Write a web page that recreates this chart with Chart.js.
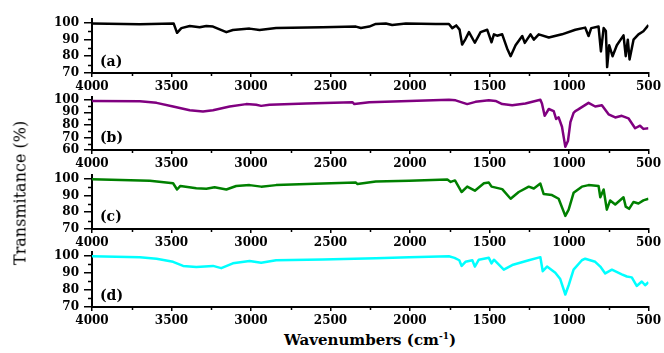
<!DOCTYPE html>
<html>
<head>
<meta charset="utf-8">
<script src="https://cdn.jsdelivr.net/npm/chart.js@4.4.1/dist/chart.umd.min.js"></script>
<style>
  body { margin: 0; background: #fff; }
  #wrap { position: relative; width: 664px; height: 353px; overflow: hidden; }
  .panel { position: absolute; left: 0; width: 664px; }
  .tag { position: absolute; left: 100px; font: bold 14px "DejaVu Serif"; color: #000; }
  #ytitle { position: absolute; left: 20px; top: 193px; transform: translate(-50%, -50%) rotate(-90deg);
            font: 16px "DejaVu Serif"; white-space: nowrap; color: #000; }
  #xtitle { position: absolute; left: 370px; top: 340px; transform: translate(-50%, -50%);
            font: bold 15px "DejaVu Serif"; white-space: nowrap; color: #000; }
  #xtitle sup { font-size: 9px; }
</style>
</head>
<body>
<div id="wrap">
  <div class="panel" style="top:7px;height:86px"><canvas id="chartA"></canvas></div>
  <div class="panel" style="top:85px;height:85px"><canvas id="chartB"></canvas></div>
  <div class="panel" style="top:163px;height:86px"><canvas id="chartC"></canvas></div>
  <div class="panel" style="top:240px;height:87px"><canvas id="chartD"></canvas></div>
  <div class="tag" style="top:53px">(a)</div>
  <div class="tag" style="top:129px">(b)</div>
  <div class="tag" style="top:208px">(c)</div>
  <div class="tag" style="top:287px">(d)</div>
  <div id="ytitle">Transmitance (%)</div>
  <div id="xtitle">Wavenumbers (cm<sup>-1</sup>)</div>
</div>
<script>
// spectre (a)
const waveA = [4000, 3700, 3486, 3465, 3438, 3385, 3323, 3281, 3239, 3155, 3114, 3009, 2946, 2842, 2549, 2340, 2309, 2256, 2215, 2152, 2112, 2026, 1838, 1755, 1734, 1709, 1688, 1672, 1651, 1629, 1592, 1556, 1514, 1487, 1472, 1452, 1420, 1389, 1367, 1336, 1294, 1278, 1242, 1221, 1190, 1127, 1044, 960, 898, 877, 860, 814, 799, 782, 768, 760, 747, 726, 699, 657, 643, 630, 619, 594, 563, 532, 500];
const transA = [99.4, 99.0, 99.4, 93.9, 96.7, 98.0, 97.2, 98.0, 97.6, 94.3, 95.6, 96.4, 95.6, 96.8, 97.2, 97.6, 96.8, 97.6, 99.2, 99.4, 98.5, 99.4, 99.1, 99.1, 96.7, 98.3, 95.8, 86.9, 90.2, 94.3, 88.0, 94.3, 95.7, 88.3, 93.0, 92.2, 93.0, 84.6, 80.0, 86.5, 92.0, 87.9, 93.0, 89.8, 93.0, 91.1, 93.0, 95.7, 97.0, 92.0, 96.7, 97.6, 82.8, 96.7, 95.0, 73.5, 86.5, 80.0, 86.5, 92.4, 80.0, 89.8, 78.1, 89.8, 93.0, 94.8, 98.5];

// spectre (b)
const waveB = [4000, 3699, 3594, 3490, 3385, 3302, 3239, 3134, 3030, 2967, 2936, 2884, 2654, 2361, 2350, 2256, 2005, 1755, 1713, 1640, 1588, 1504, 1462, 1420, 1357, 1274, 1180, 1170, 1153, 1127, 1096, 1081, 1065, 1044, 1023, 1006, 991, 971, 960, 944, 877, 835, 793, 751, 709, 668, 626, 584, 553, 532, 500];
const transB = [99.0, 98.8, 97.5, 94.6, 91.6, 90.6, 91.6, 94.6, 96.5, 96.0, 95.1, 96.0, 97.0, 98.0, 96.5, 98.0, 99.0, 100.0, 99.5, 96.5, 98.3, 99.5, 99.0, 96.5, 95.6, 97.0, 100.0, 97.0, 87.2, 92.6, 90.9, 84.7, 86.0, 78.5, 62.5, 67.4, 82.2, 89.6, 91.0, 92.1, 97.5, 94.6, 95.6, 88.4, 85.9, 87.2, 85.2, 77.3, 79.3, 76.8, 77.3];

// spectre (c)
const waveC = [4000, 3636, 3490, 3465, 3444, 3344, 3281, 3229, 3155, 3093, 3009, 2936, 2842, 2549, 2340, 2330, 2215, 2005, 1765, 1744, 1717, 1675, 1640, 1592, 1535, 1504, 1487, 1420, 1367, 1316, 1253, 1221, 1180, 1159, 1107, 1065, 1023, 1002, 971, 919, 877, 814, 803, 782, 762, 741, 709, 657, 643, 622, 594, 563, 532, 500];
const transC = [99.6, 98.7, 97.2, 93.5, 95.6, 94.3, 93.9, 94.8, 93.5, 95.6, 96.1, 95.2, 96.1, 97.0, 97.6, 96.7, 98.3, 98.7, 99.4, 98.0, 98.9, 92.0, 95.2, 92.8, 97.2, 97.6, 95.2, 93.7, 88.0, 92.0, 95.2, 94.1, 97.0, 90.8, 90.2, 88.0, 77.8, 81.5, 91.5, 95.2, 96.1, 95.6, 88.9, 93.5, 81.5, 87.0, 84.6, 88.9, 83.3, 82.0, 86.1, 85.2, 87.0, 88.0];

// spectre (d)
const waveD = [4000, 3699, 3594, 3490, 3427, 3344, 3239, 3187, 3114, 3009, 2936, 2842, 2549, 2215, 2005, 1755, 1720, 1690, 1675, 1651, 1608, 1592, 1567, 1504, 1487, 1472, 1410, 1357, 1253, 1180, 1165, 1138, 1086, 1055, 1023, 1002, 971, 919, 898, 835, 803, 772, 730, 668, 636, 605, 574, 542, 521, 500];
const transD = [99.6, 99.1, 98.2, 96.4, 94.0, 93.3, 94.0, 92.7, 95.5, 96.9, 95.8, 97.3, 97.8, 98.5, 99.1, 99.6, 98.7, 97.3, 94.0, 96.4, 97.3, 93.6, 97.6, 98.7, 95.5, 97.6, 91.8, 94.5, 97.3, 99.1, 90.9, 93.6, 90.0, 86.3, 77.3, 82.7, 91.8, 97.3, 98.2, 96.4, 93.6, 89.6, 91.8, 89.1, 87.8, 87.3, 82.3, 84.9, 82.7, 84.5];

const xTicks = [4000, 3500, 3000, 2500, 2000, 1500, 1000, 500];

// petits traits secondaires sur les axes
const minorTicks = {
    id: 'minorTicks',
    afterDraw(chart) {
        const ctx = chart.ctx;
        const xs = chart.scales.x;
        const ys = chart.scales.y;
        ctx.save();
        ctx.strokeStyle = '#000';
        ctx.lineWidth = 1.5;
        ctx.beginPath();
        for (let v = 750; v < 4000; v += 500) {
            const px = Math.round(xs.getPixelForValue(v)) + 0.5;
            ctx.moveTo(px, xs.top);
            ctx.lineTo(px, xs.top + 3);
        }
        for (let v = ys.min + 5; v < 100; v += 10) {
            const py = Math.round(ys.getPixelForValue(v)) + 0.5;
            ctx.moveTo(ys.right, py);
            ctx.lineTo(ys.right - 4, py);
        }
        ctx.stroke();
        ctx.restore();
    }
};

function makePanel(id, waves, values, color, yMin) {
    const ctx = document.getElementById(id).getContext('2d');
    const tickFont = { family: 'DejaVu Serif', size: 12, weight: 'bold' };
    const yTicks = [];
    for (let v = yMin; v <= 100; v += 10) yTicks.push(v);
    return new Chart(ctx, {
        type: 'line',
        data: {
            datasets: [{
                data: waves.map((w, i) => ({ x: w, y: values[i] })),
                borderColor: color,
                borderWidth: 2.5,
                borderJoinStyle: 'round',
                pointRadius: 0,
                tension: 0,
                fill: false
            }]
        },
        options: {
            responsive: true,
            maintainAspectRatio: false,
            animation: false,
            events: [],
            layout: { padding: { top: 8, right: 14, left: 0, bottom: 0 } },
            plugins: {
                legend: { display: false },
                tooltip: { enabled: false }
            },
            scales: {
                x: {
                    type: 'linear',
                    reverse: true,
                    min: 500,
                    max: 4000,
                    afterFit: (s) => { s.height = 20; },
                    afterBuildTicks: (s) => { s.ticks = xTicks.map(v => ({ value: v })); },
                    ticks: {
                        color: '#000',
                        font: tickFont,
                        padding: 3,
                        maxRotation: 0,
                        autoSkip: false,
                        callback: (v) => String(v)
                    },
                    grid: { drawOnChartArea: false, drawTicks: true, tickLength: 4, color: '#000', lineWidth: 1.5 },
                    border: { display: true, color: '#000', width: 2 }
                },
                y: {
                    min: yMin,
                    max: 102,
                    afterFit: (s) => { s.width = 92; },
                    afterBuildTicks: (s) => { s.ticks = yTicks.map(v => ({ value: v })); },
                    ticks: {
                        autoSkip: false,
                        color: '#000',
                        font: tickFont,
                        padding: 5
                    },
                    grid: { drawOnChartArea: false, drawTicks: true, tickLength: 8, color: '#000', lineWidth: 1.5 },
                    border: { display: true, color: '#000', width: 2 }
                }
            }
        },
        plugins: [minorTicks]
    });
}

makePanel('chartA', waveA, transA, '#000000', 70);
makePanel('chartB', waveB, transB, '#800080', 60);
makePanel('chartC', waveC, transC, '#008000', 70);
makePanel('chartD', waveD, transD, '#00ffff', 70);
</script>
</body>
</html>
